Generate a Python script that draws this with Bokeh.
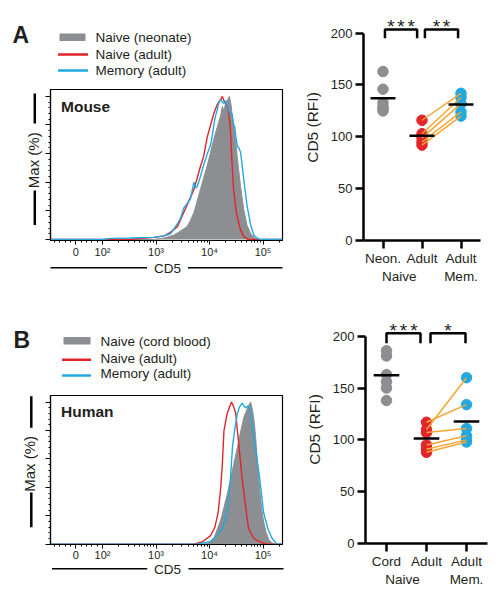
import numpy as np
from bokeh.plotting import figure
from bokeh.models import Range1d, FixedTicker, LinearAxis, Label
from bokeh.layouts import row, column
from bokeh.embed import file_html
from bokeh.resources import INLINE
from bokeh.core.properties import value

FONT = "Liberation Sans"
INK = "#231f20"
GREY = "#8d8e92"
RED = "#e2252b"
BLUE = "#22a9e1"
ORANGE = "#f5a533"

# ---------------- data ----------------
# CD5 histogram axis: display position (logicle-like; "0" at 1.5, 10^k at k)
cd5_tick_pos = [1.5, 2, 3, 4, 5]
cd5_tick_labels = ["0", "10²", "10³", "10⁴", "10⁵"]
max_tick_pos = [0, 20, 40, 60, 80, 100]

# Mouse histograms (x = display position, y = % of max)
mouse_neonate_x = [1.03, 2.95, 3.15, 3.33, 3.46, 3.58, 3.64, 3.71, 3.77, 3.83, 3.89, 3.96, 4.02, 4.08, 4.14,
                   4.21, 4.24, 4.27, 4.30, 4.33, 4.37, 4.40, 4.42, 4.45, 4.49, 4.52, 4.55, 4.58, 4.64, 4.70,
                   4.77, 4.83, 4.89, 5.36]
mouse_neonate_y = [0, 0, 1, 3, 6, 9, 13, 19, 27, 35, 43, 52, 61, 70, 78,
                   87, 93, 90, 95, 97, 100, 95, 88, 80, 68, 57, 47, 37, 21, 10,
                   4, 1.5, 0, 0]
mouse_naive_x = [1.03, 2.5, 2.96, 3.15, 3.27, 3.40, 3.46, 3.58, 3.71, 3.83, 3.89, 3.96, 4.08, 4.14, 4.21,
                 4.24, 4.27, 4.30, 4.33, 4.36, 4.39, 4.42, 4.45, 4.50, 4.57, 4.64, 4.72, 5.36]
mouse_naive_y = [0, 0, 1.5, 2.5, 5, 9, 14, 24, 35, 51, 58, 72, 88, 94, 98,
                 100, 97, 95, 93, 88, 77, 54, 35, 19, 7.6, 2, 0, 0]
mouse_memory_x = [1.03, 2.0, 2.15, 2.5, 2.96, 3.15, 3.27, 3.33, 3.40, 3.46, 3.52, 3.58, 3.64, 3.68, 3.71,
                  3.74, 3.77, 3.83, 3.89, 3.96, 4.02, 4.05, 4.08, 4.11, 4.14, 4.17, 4.21, 4.24, 4.27, 4.30,
                  4.33, 4.36, 4.39, 4.42, 4.45, 4.47, 4.49, 4.52, 4.55, 4.58, 4.61, 4.64, 4.70, 4.77, 4.83,
                  4.89, 4.95, 5.36]
mouse_memory_y = [0, 0, 0.8, 1, 1.5, 2.5, 4, 7, 11, 15, 22, 25, 28, 35, 40,
                  36, 37, 44, 52, 60, 66, 72, 80, 86, 90, 95, 98, 96, 95, 97,
                  92, 90, 88, 88, 80, 79, 72, 65, 64, 61, 52, 42, 24, 10, 3,
                  1, 0, 0]

# Human histograms
human_cord_x = [1.03, 3.85, 3.96, 4.02, 4.08, 4.14, 4.21, 4.27, 4.33, 4.39, 4.45, 4.52, 4.58, 4.64, 4.70,
                4.74, 4.77, 4.80, 4.83, 4.86, 4.89, 4.92, 4.95, 4.98, 5.01, 5.06, 5.11, 5.17, 5.22, 5.36]
human_cord_y = [0, 0, 0.5, 1.5, 4, 10, 17, 26, 35, 45, 56, 68, 79, 89, 95,
                98, 100, 95, 88, 76, 60, 46, 34, 24, 16, 8, 3, 1, 0, 0]
human_naive_x = [1.03, 3.70, 3.86, 4.02, 4.10, 4.16, 4.21, 4.24, 4.27, 4.33, 4.38, 4.41, 4.45, 4.49, 4.55,
                 4.61, 4.69, 4.73, 4.83, 4.95, 5.08, 5.36]
human_naive_y = [0, 0, 1.6, 6, 12, 22, 40, 57, 80, 92, 97, 100, 97, 92, 69,
                 46, 22, 11, 4, 1.5, 0, 0]
human_memory_x = [1.03, 3.77, 4.02, 4.14, 4.24, 4.33, 4.39, 4.43, 4.47, 4.52, 4.56, 4.61, 4.67, 4.73, 4.77,
                  4.81, 4.89, 4.94, 5.01, 5.09, 5.17, 5.26, 5.36]
human_memory_y = [0, 0, 2, 6.3, 10.9, 22.5, 45.6, 68.8, 80.3, 91.9, 96.5, 99.3, 96, 97.5, 92,
                  80, 59.5, 45.6, 22.5, 10.9, 4, 0, 0]

# CD5 RFI scatter
cat_pos = [0, 1, 2]
mouse_cat_labels = ["Neon.", "Adult", "Adult"]
mouse_cat2_pos = [0.42, 2]
mouse_cat2_labels = ["Naive", "Mem."]
mouse_neonate_rfi = [163, 146, 133, 129, 127, 125]
mouse_naive_rfi = [116, 103, 99, 95, 92]
mouse_memory_rfi = [142, 138, 132, 124, 120]
mouse_sig = [(3, 0.05, 0.875), (2, 1.075, 1.925)]      # (number of stars, from, to)

human_cat_labels = ["Cord", "Adult", "Adult"]
human_cat2_pos = [0.4, 2]
human_cat2_labels = ["Naive", "Mem."]
human_cord_rfi = [186, 181, 163, 156, 150, 138]
human_naive_rfi = [117, 110, 107, 95, 91, 88]
human_memory_rfi = [134, 160, 111, 104, 100, 98]
human_sig = [(3, 0.0, 0.85), (1, 1.1, 1.975)]

rfi_ticks = [0, 50, 100, 150, 200]


# ---------------- helpers ----------------
class Strip:
    """A plain drawing area (no axes) whose coordinates are page pixels."""

    def __init__(self, ox, oy, w, h):
        self.ox, self.oy = ox, oy
        self.p = figure(width=w, height=h, x_range=Range1d(0, w), y_range=Range1d(h, 0),
                        x_axis_type=None, y_axis_type=None, output_backend="svg",
                        toolbar_location=None, min_border=0)
        self.p.outline_line_color = None

    def text(self, x, y, t, size, align="left", bold=False, angle=0.0):
        self.p.text(x=[x - self.ox], y=[y - self.oy], text=[t], text_font=value(FONT),
                    text_font_size=value(size), text_color=INK, text_align=align,
                    text_baseline="middle", text_font_style="bold" if bold else "normal", angle=angle)

    def box(self, l, r, t, b, color):
        self.p.quad(left=[l - self.ox], right=[r - self.ox], top=[t - self.oy], bottom=[b - self.oy],
                    fill_color=color, line_color=None)

    def hline(self, x0, x1, y, color, width):
        self.p.segment(x0=[x0 - self.ox], x1=[x1 - self.ox], y0=[y - self.oy], y1=[y - self.oy],
                       line_color=color, line_width=width)

    def vline(self, x, y0, y1, color, width):
        self.p.segment(x0=[x - self.ox], x1=[x - self.ox], y0=[y0 - self.oy], y1=[y1 - self.oy],
                       line_color=color, line_width=width)


def hist_fig(ox, oy, W, H, FL, FR, FT, FB, xr, yr, neo, naive, mem, species, species_y, standoff):
    p = figure(width=W, height=H, x_range=Range1d(*xr), y_range=Range1d(*yr),
               output_backend="svg", toolbar_location=None,
               min_border_left=FL - ox, min_border_right=ox + W - FR,
               min_border_top=FT - oy, min_border_bottom=oy + H - FB)
    p.grid.visible = False
    p.outline_line_color = "black"
    p.outline_line_width = 1.2

    logs = [0.301, 0.477, 0.602, 0.699, 0.778, 0.845, 0.903, 0.954]
    minor = [1.1, 1.2, 1.3, 1.4, 1.6, 1.7, 1.8, 1.9] + [d + l for d in (2, 3, 4) for l in logs] + [5.301]
    xa = p.xaxis[0]
    xa.ticker = FixedTicker(ticks=cd5_tick_pos, minor_ticks=minor)
    xa.major_label_overrides = dict(zip(cd5_tick_pos, cd5_tick_labels))
    xa.major_label_text_font = FONT
    xa.major_label_text_font_size = "11px"
    xa.major_label_text_color = INK
    xa.major_label_standoff = standoff
    xa.major_tick_out = 4
    xa.major_tick_in = 0
    xa.minor_tick_out = 2
    xa.minor_tick_in = 0
    xa.axis_line_width = 1.2

    ya = p.yaxis[0]
    ya.ticker = FixedTicker(ticks=max_tick_pos,
                            minor_ticks=[t + k for t in max_tick_pos[:-1] for k in (4, 8, 12, 16)])
    ya.major_label_overrides = {t: "" for t in max_tick_pos}
    ya.major_label_standoff = 0
    ya.major_tick_out = 5
    ya.major_tick_in = 0
    ya.minor_tick_out = 2
    ya.minor_tick_in = 0
    ya.axis_line_width = 1.2

    p.varea(x=neo[0], y1=0, y2=neo[1], fill_color=GREY, fill_alpha=1)
    p.line(neo[0], neo[1], line_color=GREY, line_width=1)
    p.line(naive[0], naive[1], line_color=RED, line_width=1.4)
    p.line(mem[0], mem[1], line_color=BLUE, line_width=1.4)

    # species label just inside the top-left of the frame
    sx = xr[0] + 10.5 * (xr[1] - xr[0]) / (FR - FL)
    sy = yr[0] + (FB - species_y) * (yr[1] - yr[0]) / (FB - FT)
    p.add_layout(Label(x=sx, y=sy, text=species, text_font=FONT, text_font_size="15.5px",
                       text_font_style="bold", text_color=INK, text_baseline="middle"))
    return p


def left_panel(top, hist, d):
    # legend strip
    T = Strip(0, top, 300, d["hist_top"] - top)
    T.text(d["letter_x"], d["letter_y"], d["letter"], "23px", bold=True)
    bx0, bx1 = d["box_x"]
    lx0, lx1 = d["line_x"]
    ly = d["leg_y"]
    T.box(bx0, bx1, ly[0] - 3.8, ly[0] + 3.8, GREY)
    T.hline(lx0, lx1, ly[1], RED, 2.6)
    T.hline(lx0, lx1, ly[2], BLUE, 2.6)
    for yy, t in zip(d["leg_text_y"], d["leg_text"]):
        T.text(d["text_x"], yy, t, "13.5px")

    # y title strip
    L = Strip(0, d["hist_top"], 44, d["hist_h"])
    mx = d["max_x"]
    L.text(mx - 1.8, d["max_y"], "Max (%)", "15px", align="center", angle=np.pi / 2)
    for t, b in d["max_bars"]:
        L.vline(mx, t, b, "black", 2.5)

    # x title strip
    btop = d["hist_top"] + d["hist_h"]
    B = Strip(0, btop, 300, d["panel_bottom"] - btop)
    cy = d["cd5_y"]
    B.text(167, cy + 0.3, "CD5", "13.5px", align="center")
    B.hline(d["cd5_l"][0], d["cd5_l"][1], cy, "black", 1.5)
    B.hline(d["cd5_r"][0], d["cd5_r"][1], cy, "black", 1.5)
    return column(T.p, row(L.p, hist), B.p)


def scatter_fig(ox, oy, W, H, FL, FR, FT, FB, xr, yr, labels1, pos2, labels2, neo, naive, mem, sig,
                bracket_top, bracket_leg, star_y):
    p = figure(width=W, height=H, x_range=Range1d(*xr), y_range=Range1d(*yr),
               output_backend="svg", toolbar_location=None,
               min_border_left=FL - ox, min_border_right=ox + W - FR,
               min_border_top=FT - oy, min_border_bottom=oy + H - FB)
    p.grid.visible = False
    p.outline_line_color = None

    ya = p.yaxis[0]
    ya.ticker = FixedTicker(ticks=rfi_ticks)
    ya.bounds = (0, 200)
    ya.axis_line_width = 2.5
    ya.major_tick_line_width = 2.5
    ya.major_tick_out = 8
    ya.major_tick_in = 0
    ya.minor_tick_line_color = None
    ya.major_label_text_font = FONT
    ya.major_label_text_font_size = "13px"
    ya.major_label_text_color = INK
    ya.major_label_standoff = 3
    ya.axis_label = "CD5 (RFI)"
    ya.axis_label_text_font = FONT
    ya.axis_label_text_font_size = "15.5px"
    ya.axis_label_text_font_style = "normal"
    ya.axis_label_text_color = INK
    ya.axis_label_standoff = 7

    xa = p.xaxis[0]
    xa.ticker = FixedTicker(ticks=cat_pos)
    xa.major_label_overrides = dict(zip(cat_pos, labels1))
    xa.bounds = xr
    xa.axis_line_width = 2.5
    xa.major_tick_line_width = 2.5
    xa.major_tick_out = 8
    xa.major_tick_in = 0
    xa.minor_tick_line_color = None
    xa.major_label_text_font = FONT
    xa.major_label_text_font_size = "13.5px"
    xa.major_label_text_color = INK
    xa.major_label_standoff = 2

    ax2 = LinearAxis(ticker=FixedTicker(ticks=pos2), major_label_overrides=dict(zip(pos2, labels2)),
                     axis_line_color=None, major_tick_line_color=None, minor_tick_line_color=None,
                     major_tick_out=0, major_tick_in=0, major_label_standoff=0,
                     major_label_text_font=FONT, major_label_text_font_size="13.5px",
                     major_label_text_color=INK)
    p.add_layout(ax2, "below")

    p.scatter(x=[cat_pos[0]] * len(neo), y=neo, size=10.5, color=GREY)
    p.scatter(x=[cat_pos[1]] * len(naive), y=naive, size=10.5, color=RED)
    p.scatter(x=[cat_pos[2]] * len(mem), y=mem, size=10.5, color=BLUE)
    p.segment(x0=[cat_pos[1]] * len(naive), y0=naive, x1=[cat_pos[2]] * len(mem), y1=mem,
              line_color=ORANGE, line_width=1.5)
    means = [float(np.mean(neo)), float(np.mean(naive)), float(np.mean(mem))]
    p.segment(x0=[c - 0.32 for c in cat_pos], y0=means, x1=[c + 0.32 for c in cat_pos], y1=means,
              line_color="black", line_width=2.5)

    p.multi_line(xs=[[a, a, b, b] for _, a, b in sig],
                 ys=[[bracket_leg, bracket_top, bracket_top, bracket_leg] for _ in sig],
                 line_color="black", line_width=2.5)
    sx, st = [], []
    for n, a, b in sig:
        c = (a + b) / 2
        for k in range(n):
            sx.append(c + (k - (n - 1) / 2) * 0.26)
            st.append("*")
    p.text(x=sx, y=[star_y] * len(sx), text=st,
           text_font=value(FONT), text_font_size=value("19px"), text_color=INK,
           text_align="center", text_baseline="middle")
    return p


# ---------------- panels ----------------
deco_a = dict(letter="A", letter_x=12, letter_y=34.8,
              box_x=(59, 85), line_x=(57.5, 87.5), leg_y=(36.8, 54, 70),
              leg_text_y=(37.3, 54, 69.7), text_x=95,
              leg_text=("Naive (neonate)", "Naive (adult)", "Memory (adult)"),
              hist_top=85, hist_h=175, panel_bottom=304,
              max_x=34.3, max_y=167, max_bars=((89.5, 124.5), (202, 242)),
              cd5_y=267.3, cd5_l=(50, 146.5), cd5_r=(187.5, 282))
deco_b = dict(letter="B", letter_x=13, letter_y=339.4,
              box_x=(63, 90), line_x=(61.5, 90.5), leg_y=(340.3, 359.3, 375),
              leg_text_y=(340.8, 357.5, 373.3), text_x=100,
              leg_text=("Naive (cord blood)", "Naive (adult)", "Memory (adult)"),
              hist_top=391, hist_h=172, panel_bottom=601,
              max_x=30.8, max_y=470, max_bars=((392, 428.3), (503, 543)),
              cd5_y=568.3, cd5_l=(51.5, 146.7), cd5_r=(188, 283))

hist_a = hist_fig(44, 85, 256, 175, 50, 282, 89, 242, (1.028, 5.364), (-0.7, 104.8),
                  (mouse_neonate_x, mouse_neonate_y), (mouse_naive_x, mouse_naive_y),
                  (mouse_memory_x, mouse_memory_y), "Mouse", 106.3, 1)
hist_b = hist_fig(44, 391, 256, 172, 50, 282, 395, 546, (1.028, 5.364), (-0.2, 104.65),
                  (human_cord_x, human_cord_y), (human_naive_x, human_naive_y),
                  (human_memory_x, human_memory_y), "Human", 411, 0)

sc_a = scatter_fig(300, 0, 198, 304, 360, 480, 14, 240, (-0.5, 2.5), (0, 218.0),
                   mouse_cat_labels, mouse_cat2_pos, mouse_cat2_labels,
                   mouse_neonate_rfi, mouse_naive_rfi, mouse_memory_rfi, mouse_sig, 203.5, 195, 206.7)
sc_b = scatter_fig(300, 304, 198, 297, 365, 487, 315, 543, (-0.525, 2.525), (0, 220.0),
                   human_cat_labels, human_cat2_pos, human_cat2_labels,
                   human_cord_rfi, human_naive_rfi, human_memory_rfi, human_sig, 202.8, 193.3, 205.7)

layout = column(row(left_panel(0, hist_a, deco_a), sc_a),
                row(left_panel(304, hist_b, deco_b), sc_b))
open("out.html", "w").write(file_html(layout, INLINE))
